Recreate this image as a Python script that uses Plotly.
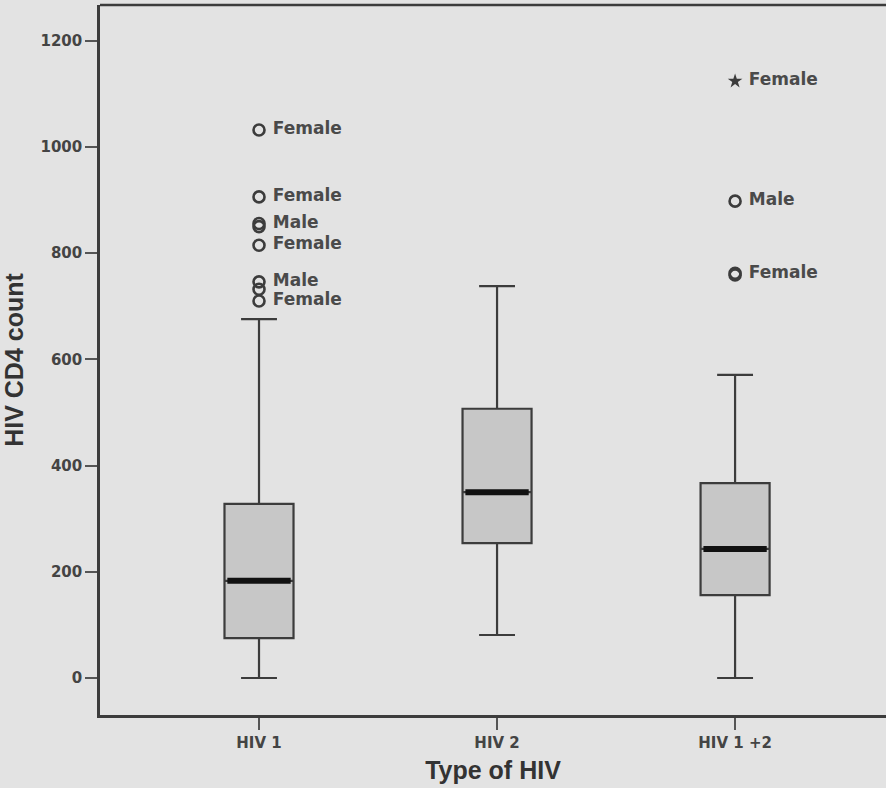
import plotly.graph_objects as go

# ---- data ----
categories = ["HIV 1", "HIV 2", "HIV 1 +2"]
cat_pos = [0, 1, 2]
lower_whisker = [0, 81, 0]
q1 = [75, 254, 156]
median = [183, 350, 243]
q3 = [328, 507, 367]
upper_whisker = [676, 738, 571]

# outliers (circles)
out_cat = [0, 0, 0, 0, 0, 0, 0, 0, 2, 2, 2]
out_val = [1032, 906, 856, 850, 815, 746, 732, 710, 898, 762, 759]
out_lab = ["Female", "Female", "Male", "", "Female", "Male", "", "Female", "Male", "Female", ""]

# extreme values (stars)
ext_cat = [2]
ext_val = [1124]
ext_lab = ["Female"]

y_ticks = [0, 200, 400, 600, 800, 1000, 1200]

BG = "#e3e3e3"
INK = "#3c3c3c"
FONT = "Liberation Sans, Arial, sans-serif"
LBL = "DejaVu Sans, sans-serif"

fig = go.Figure()

fig.add_trace(go.Box(
    x=cat_pos, q1=q1, median=median, q3=q3,
    lowerfence=lower_whisker, upperfence=upper_whisker,
    width=0.29, whiskerwidth=0.52,
    fillcolor="#c7c7c7", line=dict(color=INK, width=2.2),
    boxpoints=False, hoverinfo="skip", showlegend=False,
))

# thick median lines
half = 0.29 / 2 - 0.012
for c, m in zip(cat_pos, median):
    fig.add_trace(go.Scatter(
        x=[c - half, c + half], y=[m, m], mode="lines",
        line=dict(color="#111111", width=6), showlegend=False, hoverinfo="skip",
    ))

fig.add_trace(go.Scatter(
    x=out_cat, y=out_val, mode="markers+text",
    text=[(" " + t) if t else "" for t in out_lab],
    textposition="middle right",
    textfont=dict(family=LBL, size=17, color="#4a4a4a", weight="bold"),
    marker=dict(symbol="circle-open", size=11, color=INK, line=dict(width=2.6, color=INK)),
    showlegend=False, hoverinfo="skip",
))

fig.add_trace(go.Scatter(
    x=ext_cat, y=ext_val, mode="markers+text", text=[" " + t for t in ext_lab],
    textposition="middle right",
    textfont=dict(family=LBL, size=17, color="#4a4a4a", weight="bold"),
    marker=dict(symbol="star", size=11, color=INK, line=dict(width=0)),
    showlegend=False, hoverinfo="skip",
))

fig.update_layout(
    width=886, height=788,
    margin=dict(l=100, r=0, t=5, b=73),
    paper_bgcolor=BG, plot_bgcolor=BG,
    font=dict(family=FONT, color="#333333"),
    xaxis=dict(
        range=[-0.668, 2.634], tickvals=cat_pos, ticktext=categories,
        showgrid=False, zeroline=False, showline=True, linecolor=INK, linewidth=2.5,
        ticks="outside", ticklen=12, tickwidth=2, tickcolor="#555555",
        tickfont=dict(family=LBL, size=15, color="#444444", weight="bold"),
        title=dict(text="<b>Type of HIV</b>", font=dict(family=FONT, size=25, color="#333333"), standoff=11),
    ),
    yaxis=dict(
        range=[-69.7, 1267.4], tickvals=y_ticks,
        showgrid=False, zeroline=False, showline=True, linecolor=INK, linewidth=2.5,
        ticks="outside", ticklen=12, tickwidth=2, tickcolor="#555555",
        tickfont=dict(family=LBL, size=15, color="#444444", weight="bold"),
        title=dict(text="<b>HIV CD4 count</b>", font=dict(family=FONT, size=25, color="#333333"), standoff=12),
    ),
    shapes=[dict(type="line", xref="paper", yref="paper", x0=0, x1=1, y0=1, y1=1,
                 line=dict(color=INK, width=2.5))],
)

fig.write_html("out.html")
